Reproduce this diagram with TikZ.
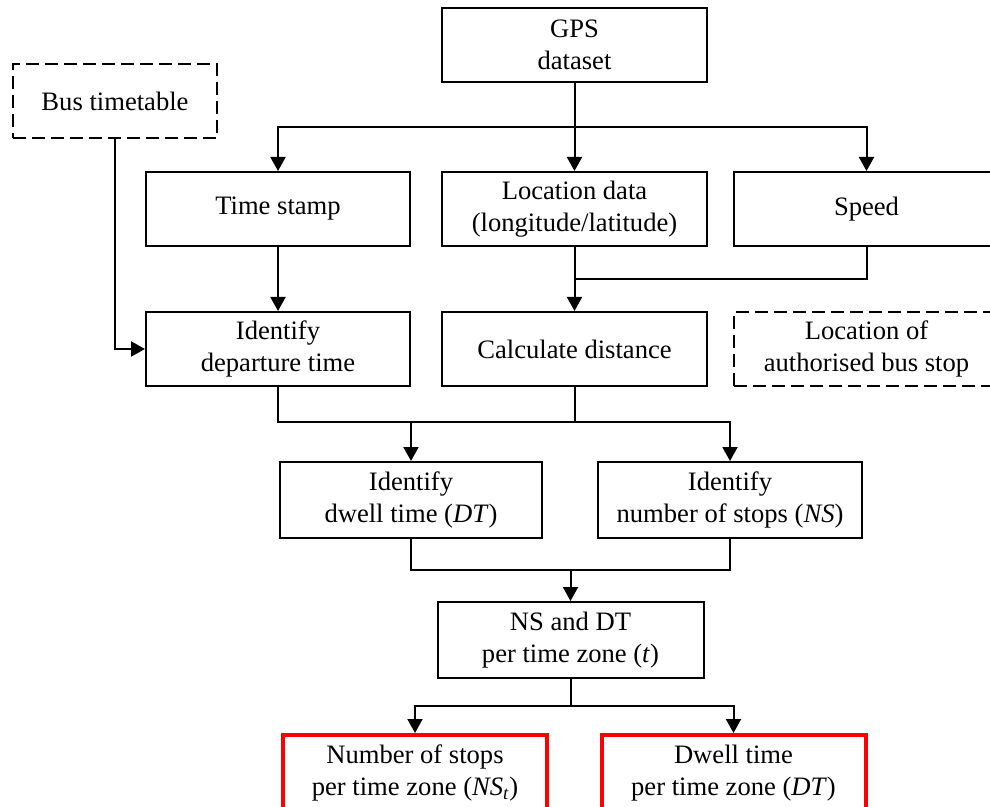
\documentclass[tikz,border=0pt]{standalone}
\usepackage{fontspec}
\setmainfont{Liberation Serif}
\usetikzlibrary{arrows.meta}
\begin{document}
\begin{tikzpicture}[x=0.5pt,y=-0.5pt,
  box/.style={draw, line width=1pt, align=center, inner sep=0pt,
    font=\fontsize{13.3pt}{16pt}\selectfont},
  wide/.style={box, minimum width=132.5pt, minimum height=37pt},
  dashbox/.style={wide, dash pattern=on 6.5pt off 3pt},
  outbox/.style={box, draw=red, line width=2pt, minimum width=132pt, minimum height=38pt},
  link/.style={line width=1pt},
  arr/.style={link, -{Triangle[width=7.5pt,length=7pt]}}]
\useasboundingbox (0,0) rectangle (990,807);
\clip (0,0) rectangle (990,807);

% inputs
\node[wide] (gps) at (574.5,45) {GPS\\dataset};
\node[dashbox, minimum width=102pt] (bt) at (115,101) {Bus timetable};

% GPS fields
\node[wide, minimum width=132pt] (ts) at (278,209) {Time stamp};
\node[wide] (loc) at (574.5,209) {Location data\\(longitude/latitude)};
\node[wide] (spd) at (866.5,209) {Speed};

% processing
\node[wide, minimum width=132pt] (dep) at (278,349) {Identify\\departure time};
\node[wide] (cd) at (574.5,349) {Calculate distance};
\node[dashbox] (lab) at (866.5,349) {Location of\\authorised bus stop};

\node[wide, minimum width=131pt, minimum height=38pt] (dw) at (411,500) {Identify\\dwell time (\textit{DT})};
\node[wide, minimum width=132pt, minimum height=38pt] (ns) at (730,500) {Identify\\number of stops (\textit{NS})};

\node[wide, minimum width=133pt, minimum height=38pt] (nsdt) at (570.5,640) {NS and DT\\per time zone (\textit{t})};

% outputs
\node[outbox] (o1) at (415,773) {Number of stops\\per time zone (\textit{NS\textsubscript{t}})};
\node[outbox] (o2) at (733.5,773) {Dwell time\\per time zone (\textit{DT})};

% junctions
\coordinate (j1) at (574.5,127);
\coordinate (j2) at (574.5,279);
\coordinate (j3) at (574.5,422);
\coordinate (j4) at (570.5,570);
\coordinate (j5) at (570.5,706);

% connectors
\draw[arr] (gps.south) -- (loc.north);
\draw[arr] (j1) -| (ts.north);
\draw[arr] (j1) -| (spd.north);
\draw[arr] (ts.south) -- (dep.north);
\draw[arr] (loc.south) -- (cd.north);
\draw[link] (spd.south) |- (j2);
\draw[arr] (bt.south) |- (dep.west);

\draw[link] (dep.south) |- (j3);
\draw[link] (cd.south) -- (j3);
\draw[arr] (j3) -| (dw.north);
\draw[arr] (j3) -| (ns.north);

\draw[link] (dw.south) |- (j4);
\draw[link] (ns.south) |- (j4);
\draw[arr] (j4) -- (nsdt.north);

\draw[link] (nsdt.south) -- (j5);
\draw[arr] (j5) -| (o1.north);
\draw[arr] (j5) -| (o2.north);
\end{tikzpicture}
\end{document}
